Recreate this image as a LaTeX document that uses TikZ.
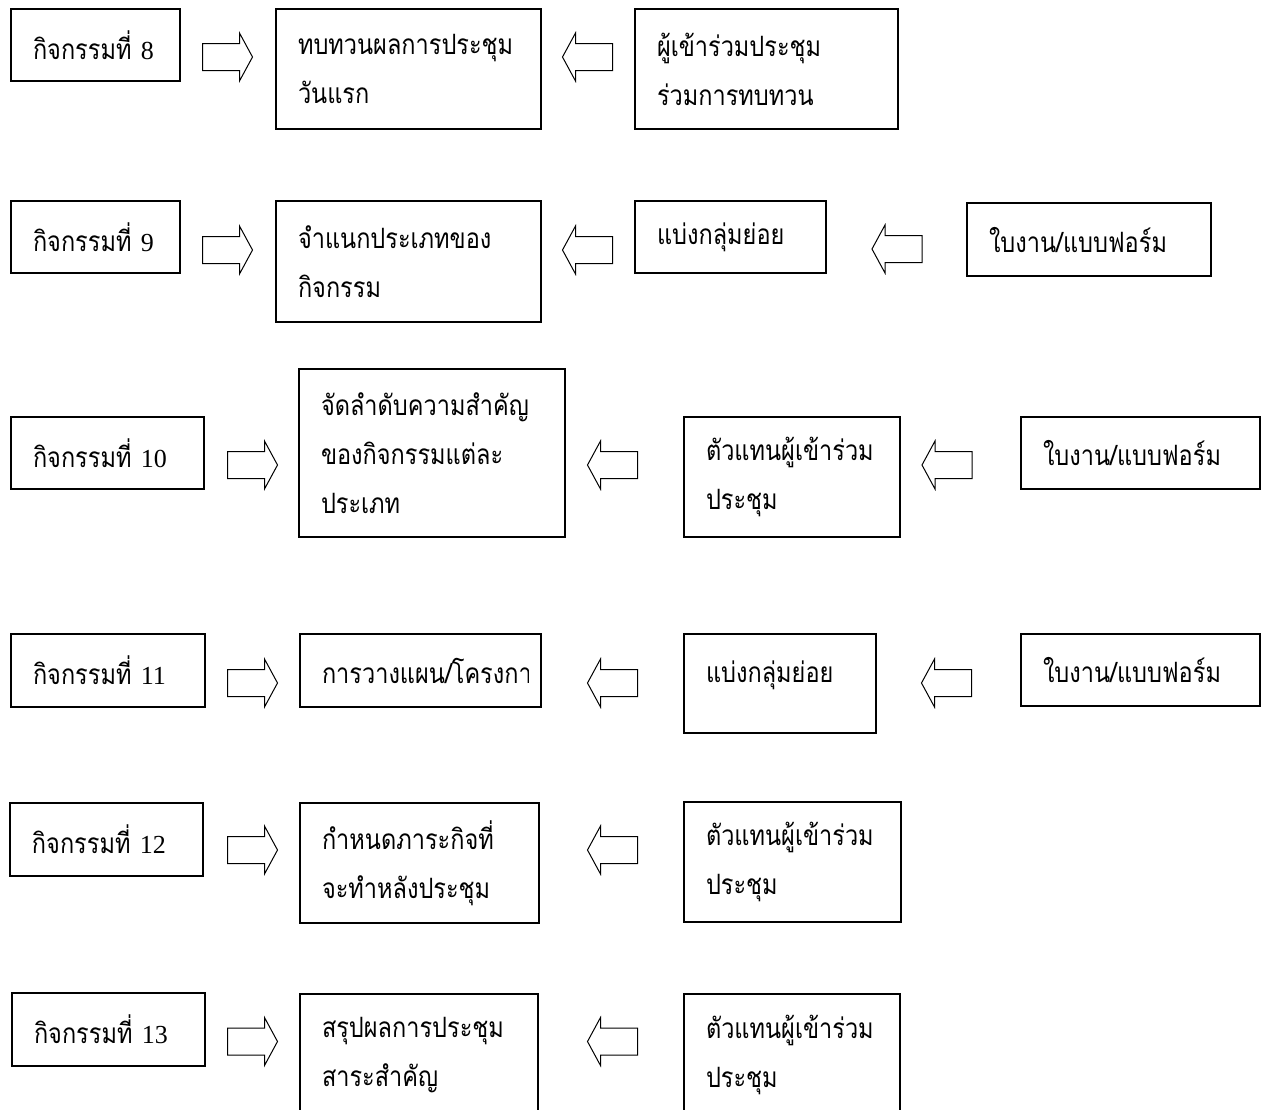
\documentclass[tikz,border=0pt]{standalone}
\usepackage{fontspec}
\setmainfont{Liberation Serif}
\newfontfamily\thaifont[Script=Thai,FakeStretch=0.84]{Loma}
\usetikzlibrary{calc}

\begin{document}
\begin{tikzpicture}[x=0.5pt,y=-0.5pt,
  box/.style={draw, line width=0.8pt, inner xsep=11pt, inner ysep=0pt, align=left,
    font=\thaifont\fontsize{14pt}{24.5pt}\selectfont},
  rblock/.pic={\draw[line width=0.5pt] (-12.5pt,-6.75pt) -- (6pt,-6.75pt) -- (6pt,-12pt) -- (12.5pt,0pt)
    -- (6pt,12pt) -- (6pt,6.75pt) -- (-12.5pt,6.75pt) -- cycle;},
  lblock/.pic={\draw[line width=0.5pt] (12.5pt,-6.75pt) -- (-6pt,-6.75pt) -- (-6pt,-12pt) -- (-12.5pt,0pt)
    -- (-6pt,12pt) -- (-6pt,6.75pt) -- (12.5pt,6.75pt) -- cycle;}]
\def\num#1{{\rmfamily\fontsize{13pt}{24.5pt}\selectfont #1}}
  \useasboundingbox (0,0) rectangle (1266,1110);
  \clip (0,0) rectangle (1266,1110);

  \node[box, text width=62.5pt, minimum height=36pt]   (a8)  at (95.5,45)    {กิจกรรมที่~\num{8}};
  \node[box, text width=110.5pt, minimum height=60pt]  (m8)  at (408.5,69)   {ทบทวนผลการประชุม\\วันแรก};
  \node[box, text width=109.5pt, minimum height=60pt]  (p8)  at (766.5,69)   {ผู้เข้าร่วมประชุม\\ร่วมการทบทวน};

  \node[box, text width=62.5pt, minimum height=36pt]   (a9)  at (95.5,237)   {กิจกรรมที่~\num{9}};
  \node[box, text width=110.5pt, minimum height=60.5pt] (m9) at (408.5,261.5) {จำแนกประเภทของ\\กิจกรรม};
  \node[box, text width=73.5pt, minimum height=36pt]   (g9)  at (730.5,237)  {แบ่งกลุ่มย่อย};
  \node[box, text width=100pt, minimum height=36.5pt]  (w9)  at (1089,239.5) {ใบงาน/แบบฟอร์ม};

  \node[box, text width=74.5pt, minimum height=36pt]   (a10) at (107.5,453)  {กิจกรรมที่~\num{10}};
  \node[box, text width=111pt, minimum height=84pt]    (m10) at (432,453)    {จัดลำดับความสำคัญ\\ของกิจกรรมแต่ละ\\ประเภท};
  \node[box, text width=86pt, minimum height=60pt]     (t10) at (792,477)    {ตัวแทนผู้เข้าร่วม\\ประชุม};
  \node[box, text width=97.5pt, minimum height=36pt]   (w10) at (1140.5,453) {ใบงาน/แบบฟอร์ม};

  \node[box, text width=75pt, minimum height=36.5pt]   (a11) at (108,670.5)  {กิจกรรมที่~\num{11}};
  \node[box, minimum width=120.5pt, minimum height=36.5pt] (m11) at (420.5,670.5) {};
  \begin{scope}
    \clip (m11.north west) rectangle (528,707);
    \node[box, draw=none, anchor=west] (m11t) at (m11.west) {การวางแผน/โครงการ};
  \end{scope}
  \node[box, text width=74pt, minimum height=49.5pt, text depth=12pt] (g11) at (780,683.5) {แบ่งกลุ่มย่อย};
  \node[box, text width=97.5pt, minimum height=36pt]   (w11) at (1140.5,670) {ใบงาน/แบบฟอร์ม};

  \node[box, text width=74.5pt, minimum height=36.5pt] (a12) at (106.5,839.5) {กิจกรรมที่~\num{12}};
  \node[box, text width=97.5pt, minimum height=60pt]   (m12) at (419.5,863)  {กำหนดภาระกิจที่\\จะทำหลังประชุม};
  \node[box, text width=86.5pt, minimum height=60pt]   (t12) at (792.5,862)  {ตัวแทนผู้เข้าร่วม\\ประชุม};

  \node[box, text width=74.5pt, minimum height=36.5pt] (a13) at (108.5,1029.5) {กิจกรรมที่~\num{13}};
  \node[box, text width=97pt, minimum height=61pt]     (m13) at (419,1055)   {สรุปผลการประชุม\\สาระสำคัญ};
  \node[box, text width=86pt, minimum height=61pt]     (t13) at (792,1055)   {ตัวแทนผู้เข้าร่วม\\ประชุม};

  \foreach \n/\y in {8/57,9/250}
    {
     \pic (r\n) at (227.5,\y) {rblock};
     \pic (l\n) at (587.5,\y) {lblock};
    }
  \foreach \n/\y in {10/465,11/683,12/850,13/1041.5}
    {
     \pic (r\n) at (252.5,\y) {rblock};
     \pic (l\n) at (612.5,\y) {lblock};
    }
  \pic (lw9)  at (897,249)   {lblock};
  \pic (lw10) at (947,465)   {lblock};
  \pic (lw11) at (946.5,683) {lblock};
\end{tikzpicture}
\end{document}
